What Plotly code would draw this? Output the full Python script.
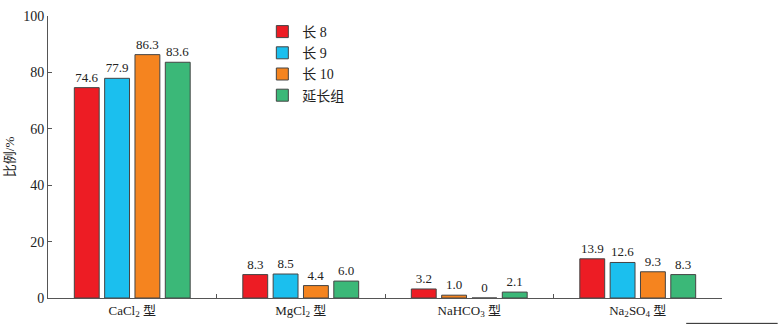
import plotly.graph_objects as go

categories = ["CaCl<sub>2</sub> 型", "MgCl<sub>2</sub> 型", "NaHCO<sub>3</sub> 型", "Na<sub>2</sub>SO<sub>4</sub> 型"]
series_names = ["长 8", "长 9", "长 10", "延长组"]
chang8 = [74.6, 8.3, 3.2, 13.9]
chang9 = [77.9, 8.5, 1.0, 12.6]
chang10 = [86.3, 4.4, 0.0, 9.3]
yanchang = [83.6, 6.0, 2.1, 8.3]
y_ticks = [0, 20, 40, 60, 80, 100]

RED = "#ED1C24"
BLUE = "#1BBFEE"
ORANGE = "#F5841F"
GREEN = "#3BB878"
# the 长 9 bar in the NaHCO3 group is printed in orange
bar_colors = [
    [RED] * 4,
    [BLUE, BLUE, ORANGE, BLUE],
    [ORANGE] * 4,
    [GREEN] * 4,
]

SERIF = "'Liberation Serif', 'Times New Roman', 'Noto Sans CJK SC', serif"


def fmt(v):
    return "0" if v == 0 else f"{v:.1f}"


fig = go.Figure()
for name, vals, cols in zip(series_names, [chang8, chang9, chang10, yanchang], bar_colors):
    fig.add_trace(go.Bar(
        x=categories, y=vals, name=name,
        marker=dict(color=cols, line=dict(color="#444", width=1)),
        text=[fmt(v) for v in vals], textposition="outside", cliponaxis=False,
        textangle=0, constraintext="none",
        textfont=dict(family=SERIF, size=13, color="#222"),
    ))

fig.update_layout(
    width=778, height=329,
    margin=dict(l=44, r=56, t=9, b=31),
    paper_bgcolor="white", plot_bgcolor="white",
    barmode="group", bargap=0.28, bargroupgap=0.18,
    font=dict(family=SERIF, size=13, color="#222"),
    legend=dict(x=0.318, y=1.0, xanchor="left", yanchor="top",
                bgcolor="rgba(0,0,0,0)", font=dict(family=SERIF, size=14),
                itemwidth=30, tracegroupgap=0),
    shapes=[dict(type="line", xref="paper", yref="paper",
                 x0=(686 - 44) / 678, x1=(778 - 44) / 678,
                 y0=-26 / 289, y1=-26 / 289,
                 line=dict(color="#222", width=1))],
)
fig.update_xaxes(
    type="category", range=[-0.5, 3.5], tickson="boundaries",
    ticks="inside", ticklen=4, tickcolor="#555",
    showline=True, linecolor="#555", linewidth=1,
    showgrid=False, tickfont=dict(family=SERIF, size=13),
)
fig.update_yaxes(
    range=[0, 100], tickvals=y_ticks, ticks="inside", ticklen=4, tickcolor="#555",
    showline=True, linecolor="#555", linewidth=1, showgrid=False, zeroline=False,
    tickfont=dict(family=SERIF, size=14),
    title=dict(text="比例/%", font=dict(family=SERIF, size=13), standoff=5),
)

fig.write_html("out.html")
